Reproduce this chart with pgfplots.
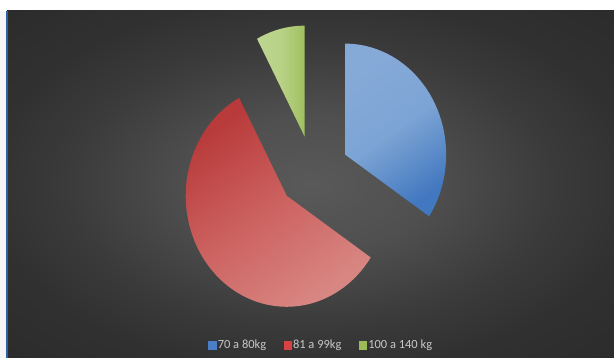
\documentclass[border=0pt]{standalone}
\usepackage{pgfplots}
\pgfplotsset{compat=1.18}
\usepackage{pgfplotstable}
\usepackage{fontspec}
\setmainfont{Carlito}

\definecolor{legblue}{HTML}{4A7FC6}
\definecolor{legred}{HTML}{D44242}
\definecolor{leggreen}{HTML}{9BBB59}
\definecolor{legtext}{HTML}{C8C8C8}
\definecolor{frameblue}{HTML}{2F5FA8}

\pgfdeclareradialshading{bgshade}{\pgfpoint{0bp}{0bp}}{%
  rgb(0bp)=(0.35,0.35,0.35);
  rgb(10bp)=(0.31,0.31,0.31);
  rgb(20bp)=(0.23,0.23,0.23);
  rgb(27bp)=(0.19,0.19,0.19);
  rgb(36bp)=(0.17,0.17,0.17);
  rgb(50bp)=(0.17,0.17,0.17)}

\pgfplotstableread{
label value
70a80 22
81a99 37
100a140 5
}\piedata

\begin{document}
\begin{tikzpicture}
\pgfplotstablegetelem{0}{value}\of\piedata \let\va\pgfplotsretval
\pgfplotstablegetelem{1}{value}\of\piedata \let\vb\pgfplotsretval
\pgfplotstablegetelem{2}{value}\of\piedata \let\vc\pgfplotsretval
\pgfmathsetmacro{\tot}{\va+\vb+\vc}
% angles (clockwise from 90)
\pgfmathsetmacro{\aA}{90}
\pgfmathsetmacro{\aB}{90-360*\va/\tot}
\pgfmathsetmacro{\aC}{\aB-360*\vb/\tot}
\pgfmathsetmacro{\aD}{\aC-360*\vc/\tot}
% centre, radii, explosion
\pgfmathsetmacro{\cx}{313.4}
\pgfmathsetmacro{\cy}{186.4}
\pgfmathsetmacro{\rx}{101}
\pgfmathsetmacro{\ry}{111}
\pgfmathsetmacro{\ex}{36}
\pgfmathsetmacro{\mA}{(\aA+\aB)/2}
\pgfmathsetmacro{\mB}{(\aB+\aC)/2}
\pgfmathsetmacro{\mC}{(\aC+\aD)/2}
\pgfmathsetmacro{\bxA}{\cx+\ex*cos(\mA)}
\pgfmathsetmacro{\byA}{\cy+\ex*sin(\mA)}
\pgfmathsetmacro{\bxB}{\cx+\ex*cos(\mB)}
\pgfmathsetmacro{\byB}{\cy+\ex*sin(\mB)}
\pgfmathsetmacro{\bxC}{\cx+\ex*cos(\mC)}
\pgfmathsetmacro{\byC}{\cy+\ex*sin(\mC)}
\begin{axis}[
  scale only axis, width=614bp, height=358bp,
  xmin=0, xmax=614, ymin=0, ymax=358,
  hide axis, clip=false,
  legend columns=-1,
  legend style={at={(axis cs:321,13)}, anchor=center, draw=none, fill=none,
    font=\fontsize{12.5}{14}\selectfont, text=legtext, inner sep=0pt,
    /tikz/every even column/.append style={column sep=16bp},
    nodes={inner xsep=1.5bp, inner ysep=0pt}},
]
% frame and background
\fill[white] (axis cs:0,0) rectangle (axis cs:614,358);
\fill[black!4] (axis cs:0,0) rectangle (axis cs:5.5,347);
\shade[shading=bgshade] (axis cs:7,0) rectangle (axis cs:614,347);
\fill[frameblue] (axis cs:5.5,0) rectangle (axis cs:7.5,347);

% blue slice
\addplot[forget plot, draw=none, top color={rgb,255:red,134;green,170;blue,216},
  bottom color={rgb,255:red,66;green,120;blue,192}, middle color={rgb,255:red,124;green,164;blue,212}, shading angle=35,
  domain=\aB:\aA, samples=90]
  ({\bxA+\rx*cos(x)}, {\byA+\ry*sin(x)}) -- (axis cs:\bxA,\byA) -- cycle;
% red slice
\addplot[forget plot, draw=none, top color={rgb,255:red,184;green,58;blue,58},
  bottom color={rgb,255:red,216;green,134;blue,130}, middle color={rgb,255:red,204;green,98;blue,96}, shading angle=35,
  domain=\aC:\aB, samples=150]
  ({\bxB+\rx*cos(x)}, {\byB+\ry*sin(x)}) -- (axis cs:\bxB,\byB) -- cycle;
% green slice
\addplot[forget plot, draw=none, left color={rgb,255:red,190;green,214;blue,144},
  right color={rgb,255:red,160;green,192;blue,96}, middle color={rgb,255:red,184;green,210;blue,134},
  domain=\aD:\aC, samples=30]
  ({\bxC+\rx*cos(x)}, {\byC+\ry*sin(x)}) -- (axis cs:\bxC,\byC) -- cycle;

\addlegendimage{legend image code/.code={\fill[legblue] (0bp,-3.8bp) rectangle (7.5bp,3.8bp);}}
\addlegendentry{70 a 80kg}
\addlegendimage{legend image code/.code={\fill[legred] (0bp,-3.8bp) rectangle (7.5bp,3.8bp);}}
\addlegendentry{81 a 99kg}
\addlegendimage{legend image code/.code={\fill[leggreen] (0bp,-3.8bp) rectangle (7.5bp,3.8bp);}}
\addlegendentry{100 a 140 kg}
\end{axis}
\end{tikzpicture}
\end{document}
